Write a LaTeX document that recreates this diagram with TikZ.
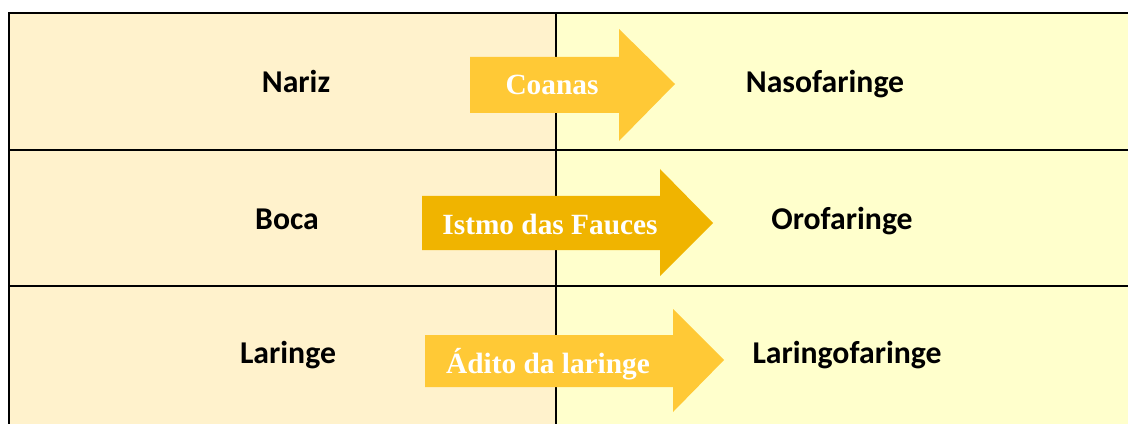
\documentclass[tikz,border=0pt]{standalone}
\usepackage{fontspec}
\usepackage{xcolor}
\usepackage{tikz}
\usetikzlibrary{positioning}
\setmainfont{Carlito}
\newfontfamily\arrowfont{Liberation Serif}
\definecolor{cellleft}{RGB}{255,242,204}
\definecolor{cellright}{RGB}{255,255,204}
\definecolor{goldlight}{RGB}{255,201,54}
\definecolor{golddark}{RGB}{240,180,0}

\begin{document}
\begin{tikzpicture}[
  x=0.75pt, y=-0.75pt,
  rule/.style={line width=1.6pt, draw=black},
  region/.style={font=\fontsize{23.8}{28}\selectfont\bfseries, anchor=base, inner sep=0pt},
  passage/.style={font=\arrowfont\fontsize{22}{26}\selectfont\bfseries, text=white, anchor=base, inner sep=0pt}
]
\useasboundingbox (0,0) rectangle (1128,424);
\fill[cellleft] (9,13) rectangle (556,424);
\fill[cellright] (556,13) rectangle (1128,424);

\draw[rule] (9,424) -- (9,13) -- (1128,13);
\draw[rule] (9,150) -- (1128,150);
\draw[rule] (9,286) -- (1128,286);
\draw[rule] (556,13) -- (556,424);

\fill[goldlight] (470,57) -- (619,57) -- (619,29) -- (675,84) -- (619,141) -- (619,113) -- (470,113) -- cycle;
\fill[golddark] (422,196) -- (660,196) -- (660,169) -- (713,223) -- (660,276) -- (660,250) -- (422,250) -- cycle;
\fill[goldlight] (425,335) -- (673,335) -- (673,309) -- (724,360) -- (673,412) -- (673,387) -- (425,387) -- cycle;

\node[region] (nariz) at (296,93) {Nariz};
\node[region] (nasofaringe) at (825,93) {Nasofaringe};
\node[region] (boca) at (287,229) {Boca};
\node[region] (orofaringe) at (842,229) {Orofaringe};
\node[region] (laringe) at (288,363) {Laringe};
\node[region] (laringofaringe) at (847,363) {Laringofaringe};

\node[passage] (coanas) at (552,95) {Coanas};
\node[passage] (istmo) at (550,234) {Istmo das Fauces};
\node[passage] (adito) at (548,373) {Ádito da laringe};
\end{tikzpicture}
\end{document}
